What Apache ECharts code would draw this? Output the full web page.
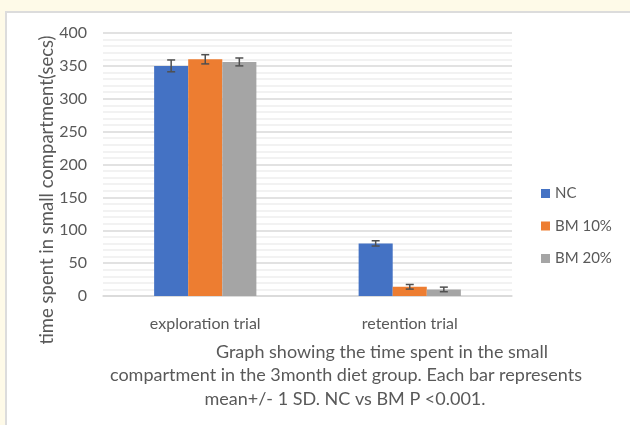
<!DOCTYPE html>
<html>
<head>
<meta charset="utf-8">
<script src="https://cdn.jsdelivr.net/npm/echarts@6/dist/echarts.min.js"></script>
<style>
    html, body {margin: 0; padding: 0; background: #fefae8; width: 630px; height: 425px; overflow: hidden;}
    #panel {position: absolute; left: 5px; top: 11px; width: 640px; height: 430px; background: #fff; border-left: 2px solid #dcdcdc; border-top: 2px solid #dcdcdc;}
    #chart {position: absolute; left: 0; top: 0; width: 630px; height: 425px;}
</style>
</head>
<body>
<div id="panel"></div>
<div id="chart"></div>
<script>
// data
var categories = ['exploration trial', 'retention trial'];
var seriesNames = ['NC', 'BM 10%', 'BM 20%'];
var ncMean = [350, 80];
var ncSd = [9, 4];
var bm10Mean = [360, 14];
var bm10Sd = [7, 3.5];
var bm20Mean = [356, 10];
var bm20Sd = [6, 3.5];
var yTicks = [0, 50, 100, 150, 200, 250, 300, 350, 400];
var captionLines = [
    'Graph showing the time spent in the small',
    'compartment in the 3month diet group. Each bar represents',
    'mean+/- 1 SD. NC vs BM P <0.001.'
];

var colors = ['#4472c4', '#ed7d31', '#a5a5a5'];
var means = [ncMean, bm10Mean, bm20Mean];
var sds = [ncSd, bm10Sd, bm20Sd];
var font = 'Lato, "Liberation Sans", sans-serif';
var textColor = '#595959';

//error bars drawn over each group of bars
var errorSeries = function (idx) {
    var d = [];
    for (var i = 0; i < categories.length; i++) {
        d.push([i, means[idx][i] - sds[idx][i], means[idx][i] + sds[idx][i]]);
    }
    return {
        type: 'custom',
        name: seriesNames[idx] + ' sd',
        z: 5,
        data: d,
        renderItem: function (params, api) {
            var band = api.size([1, 0])[0];
            var off = (idx - 1) * band / 6;
            var lo = api.coord([api.value(0), api.value(1)]);
            var hi = api.coord([api.value(0), api.value(2)]);
            var x = lo[0] + off;
            var cap = 4;
            var st = {stroke: '#505050', lineWidth: 1.5};
            return {
                type: 'group',
                children: [
                    {type: 'line', shape: {x1: x, y1: lo[1], x2: x, y2: hi[1]}, style: st},
                    {type: 'line', shape: {x1: x - cap, y1: lo[1], x2: x + cap, y2: lo[1]}, style: st},
                    {type: 'line', shape: {x1: x - cap, y1: hi[1], x2: x + cap, y2: hi[1]}, style: st}
                ]
            };
        }
    };
};

var series = [];
for (var s = 0; s < 3; s++) {
    series.push({
        type: 'bar',
        name: seriesNames[s],
        data: means[s],
        barGap: '0%',
        barCategoryGap: '50%',
        itemStyle: {color: colors[s]}
    });
}
for (var s2 = 0; s2 < 3; s2++) {
    series.push(errorSeries(s2));
}

var capX = [382, 346, 345];
var capY = [352, 375, 399];
var graphics = [{
    type: 'text',
    x: 47, y: 190,
    rotation: Math.PI / 2,
    style: {
        text: 'time spent in small compartment(secs)',
        font: '18.5px ' + font,
        fill: textColor,
        textAlign: 'center',
        textVerticalAlign: 'middle'
    }
}];
for (var c = 0; c < captionLines.length; c++) {
    graphics.push({
        type: 'text',
        x: capX[c], y: capY[c],
        style: {
            text: captionLines[c],
            font: '18px ' + font,
            fill: textColor,
            textAlign: 'center',
            textVerticalAlign: 'middle'
        }
    });
}

var e = echarts.init(document.getElementById('chart'));
e.setOption({
    animation: false,
    backgroundColor: 'transparent',
    grid: {left: 103, right: 118, top: 33, bottom: 129},
    legend: {
        data: seriesNames,
        orient: 'vertical',
        left: 536,
        top: 181,
        itemWidth: 9,
        itemHeight: 9,
        itemGap: 17.5,
        icon: 'rect',
        textStyle: {fontFamily: font, fontSize: 15, color: textColor, padding: [4, 0, 0, 0]}
    },
    xAxis: {
        type: 'category',
        data: categories,
        axisTick: {show: false},
        axisLine: {lineStyle: {color: '#d9d9d9', width: 1.5}},
        axisLabel: {fontFamily: font, fontSize: 16, color: textColor, margin: 20}
    },
    yAxis: {
        type: 'value',
        min: yTicks[0],
        max: yTicks[yTicks.length - 1],
        interval: 50,
        axisLine: {show: false},
        axisTick: {show: false},
        axisLabel: {fontFamily: font, fontSize: 16, color: textColor, margin: 16},
        splitLine: {lineStyle: {color: '#d9d9d9', width: 1.5}},
        minorTick: {show: false, splitNumber: 5},
        minorSplitLine: {show: true, lineStyle: {color: '#eeeeee', width: 1.5}}
    },
    series: series,
    graphic: graphics
});
</script>
</body>
</html>
